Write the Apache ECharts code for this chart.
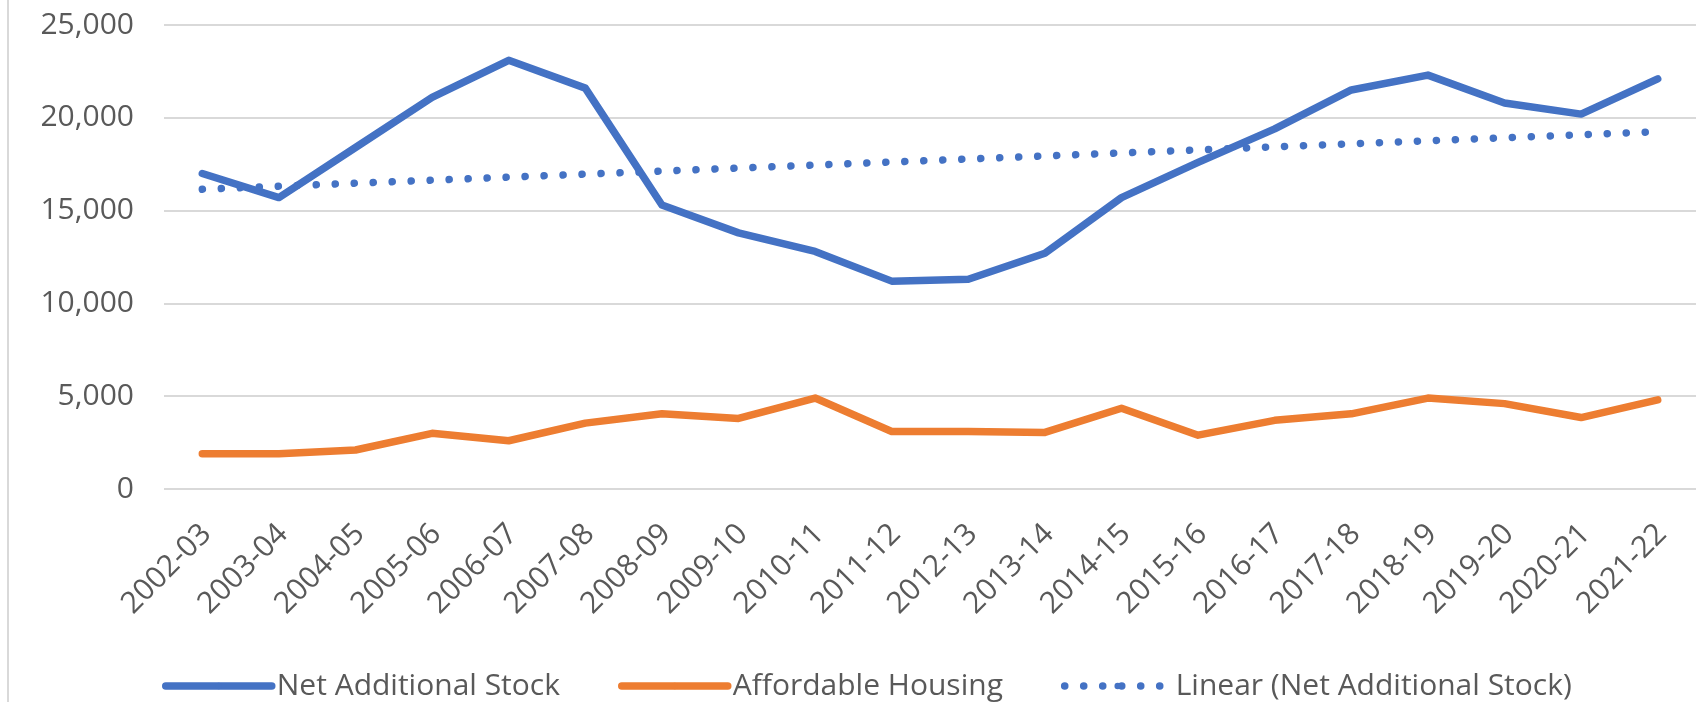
<!DOCTYPE html>
<html>
<head>
<meta charset="utf-8">
<script src="https://cdn.jsdelivr.net/npm/echarts@6/dist/echarts.min.js"></script>
<style>
html,body{margin:0;padding:0;background:#fff;}
#chart{width:1696px;height:702px;}
</style>
</head>
<body>
<div id="chart"></div>
<script>
const categories = ['2002-03','2003-04','2004-05','2005-06','2006-07','2007-08','2008-09','2009-10','2010-11','2011-12','2012-13','2013-14','2014-15','2015-16','2016-17','2017-18','2018-19','2019-20','2020-21','2021-22'];
const netAdditionalStock = [17000,15700,18400,21100,23100,21600,15300,13800,12800,11200,11300,12700,15700,17600,19400,21500,22300,20800,20200,22100];
const affordableHousing = [1900,1900,2100,3000,2600,3550,4050,3800,4900,3100,3100,3050,4350,2900,3700,4050,4900,4600,3850,4800];
// trend line endpoints
const linearTrend = [['2002-03',16150],['2021-22',19250]];
const yTicks = [0,5000,10000,15000,20000,25000];

const FONT = '"Open Sans", "Noto Sans", sans-serif';
const chart = echarts.init(document.getElementById('chart'), null, {renderer:'canvas'});
chart.setOption({
  animation:false,
  backgroundColor:'#fff',
  grid:{left:164,right:0,top:25,bottom:213,containLabel:false},
  xAxis:{
    type:'category',
    data:categories,
    boundaryGap:true,
    axisLine:{show:false},
    axisTick:{show:false},
    axisLabel:{rotate:45,margin:36,verticalAlign:'top',lineHeight:12,color:'#595959',fontSize:30,fontFamily:FONT,interval:0}
  },
  yAxis:{
    type:'value',
    min:yTicks[0],max:yTicks[yTicks.length-1],interval:5000,
    axisLine:{show:false},axisTick:{show:false},
    splitLine:{lineStyle:{color:'#d9d9d9',width:2}},
    axisLabel:{margin:30,color:'#595959',fontSize:30,fontFamily:FONT,
      formatter:v=>v.toLocaleString('en-US')}
  },
  legend:{
    left:157,top:666,
    itemWidth:106,itemHeight:8,itemGap:58,
    textStyle:{color:'#595959',fontSize:30,fontFamily:FONT},
    lineStyle:{width:'inherit'},
    data:['Net Additional Stock','Affordable Housing','Linear (Net Additional Stock)']
  },
  graphic:[{type:'line',shape:{x1:8,y1:0,x2:8,y2:702},style:{stroke:'#d9d9d9',lineWidth:2},silent:true}],
  series:[
    {name:'Net Additional Stock',type:'line',data:netAdditionalStock,symbol:'none',
      color:'#4472C4',lineStyle:{color:'#4472C4',width:7.5,cap:'round',join:'round'}},
    {name:'Affordable Housing',type:'line',data:affordableHousing,symbol:'none',
      color:'#ED7D31',lineStyle:{color:'#ED7D31',width:7.5,cap:'round',join:'round'}},
    {name:'Linear (Net Additional Stock)',type:'line',data:linearTrend,symbol:'none',
      color:'#4472C4',lineStyle:{color:'#4472C4',width:7.5,type:[0.1,18.9],cap:'round'}}
  ]
});
</script>
</body>
</html>
